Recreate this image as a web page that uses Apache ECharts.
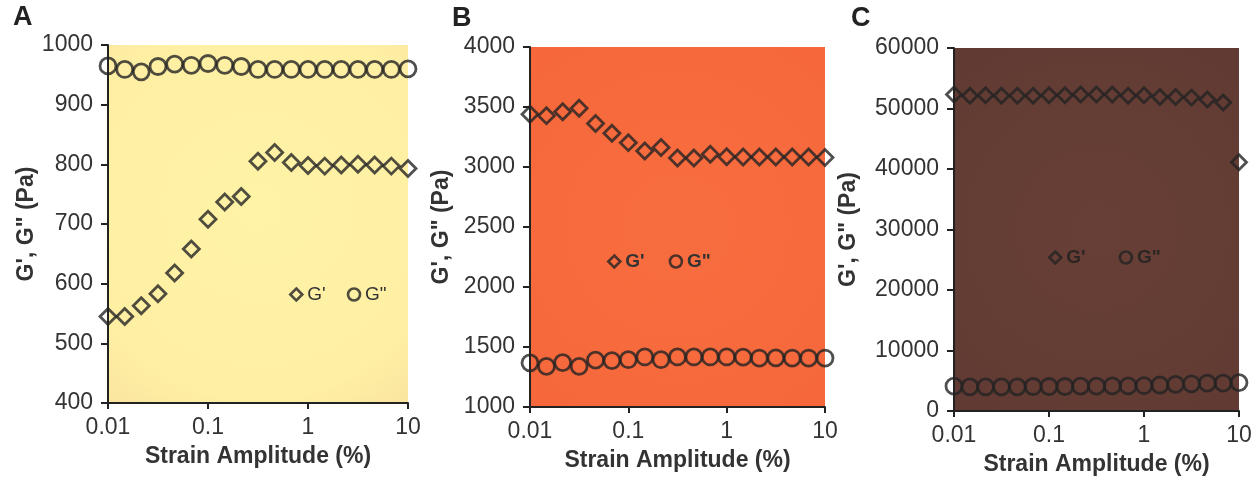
<!DOCTYPE html>
<html>
<head>
<meta charset="utf-8">
<script src="https://cdn.jsdelivr.net/npm/echarts@6/dist/echarts.min.js"></script>
<style>
html,body{margin:0;padding:0;background:#fff;}
#chart{width:1256px;height:491px;}
</style>
</head>
<body>
<div id="chart"></div>
<script>
// Strain amplitude (%) — shared by all three panels
const strain = [0.01, 0.0147, 0.0215, 0.0316, 0.0464, 0.0681, 0.1, 0.147, 0.215, 0.316, 0.464, 0.681, 1, 1.47, 2.15, 3.16, 4.64, 6.81, 10];

// Panel A
const aGp  = [545, 545, 563, 583, 618, 658, 708, 737, 746, 805, 820, 803, 798, 797, 799, 800, 799, 797, 793];
const aGpp = [965, 959, 955, 964, 968, 966, 969, 966, 964, 959, 959, 959, 959, 959, 959, 959, 959, 959, 960];
// Panel B
const bGp  = [3439, 3428, 3460, 3490, 3362, 3282, 3203, 3134, 3162, 3075, 3075, 3106, 3085, 3083, 3083, 3083, 3083, 3083, 3080];
const bGpp = [1368, 1339, 1370, 1339, 1390, 1386, 1394, 1417, 1394, 1417, 1417, 1417, 1417, 1415, 1408, 1410, 1408, 1408, 1408];
// Panel C
const cGp  = [52300, 52100, 52200, 52100, 52100, 52100, 52200, 52200, 52300, 52300, 52300, 52100, 52200, 51900, 51900, 51800, 51500, 51000, 41100];
const cGpp = [4100, 4000, 4000, 4000, 4000, 4050, 4050, 4050, 4100, 4100, 4150, 4150, 4200, 4300, 4400, 4500, 4600, 4600, 4700];

// Axis ranges / ticks
const yMin = [400, 1000, 0];
const yMax = [1000, 4000, 60000];
const yStep = [100, 500, 10000];
const xMin = 0.01, xMax = 10;
const panelLetters = ['A', 'B', 'C'];
const nameGp = "G'";
const nameGpp = 'G"';

const FONT = '"Liberation Sans", Arial, sans-serif';
const INK = '#333';

const grids = [
  {left: 108, top: 45, width: 300, height: 358,
   backgroundColor: {type: 'radial', x: 0.5, y: 0.45, r: 0.8,
     colorStops: [{offset: 0, color: '#FFF3A6'}, {offset: 0.8, color: '#FEEFA3'}, {offset: 1, color: '#FBE6A0'}]}},
  {left: 530, top: 47, width: 295, height: 360,
   backgroundColor: {type: 'radial', x: 0.5, y: 0.5, r: 0.75,
     colorStops: [{offset: 0, color: '#F86D3F'}, {offset: 1, color: '#F6683B'}]}},
  {left: 954, top: 48, width: 285, height: 363,
   backgroundColor: {type: 'radial', x: 0.5, y: 0.5, r: 0.75,
     colorStops: [{offset: 0, color: '#683F36'}, {offset: 1, color: '#613B33'}]}}
].map(g => Object.assign({show: true, borderWidth: 0, containLabel: false}, g));

const yNameGaps = [64, 77, 94];

const xAxes = [0, 1, 2].map(i => ({
  type: 'log', logBase: 10, gridIndex: i, min: xMin, max: xMax,
  name: 'Strain Amplitude (%)', nameLocation: 'middle', nameGap: 42,
  nameTextStyle: {fontFamily: FONT, fontSize: 23, fontWeight: 'bold', color: INK},
  axisLine: {show: true, lineStyle: {color: '#222', width: 2}},
  axisTick: {show: true, inside: false, length: 6, lineStyle: {color: '#222', width: 2}},
  minorTick: {show: false},
  splitLine: {show: false},
  axisLabel: {fontFamily: FONT, fontSize: 23, color: INK, margin: 13,
    formatter: v => String(+(+v).toPrecision(3))}
}));

const yAxes = [0, 1, 2].map(i => ({
  type: 'value', gridIndex: i, min: yMin[i], max: yMax[i], interval: yStep[i],
  name: "G', G\" (Pa)", nameLocation: 'middle', nameRotate: 90, nameGap: yNameGaps[i],
  nameTextStyle: {fontFamily: FONT, fontSize: 23, fontWeight: 'bold', color: INK},
  axisLine: {show: true, lineStyle: {color: '#222', width: 2}},
  axisTick: {show: true, inside: false, length: 7, lineStyle: {color: '#222', width: 2}},
  splitLine: {show: false},
  axisLabel: {fontFamily: FONT, fontSize: 23, color: INK, margin: 15,
    formatter: v => String(v)}
}));

const gpData = [aGp, bGp, cGp];
const gppData = [aGpp, bGpp, cGpp];
const stroke = ['#232323', '#232323', '#232323'];

const series = [];
[0, 1, 2].forEach(i => {
  series.push({
    type: 'scatter', name: nameGpp, xAxisIndex: i, yAxisIndex: i, clip: false,
    symbol: 'circle', symbolSize: 16,
    itemStyle: {color: 'rgba(0,0,0,0)', borderColor: stroke[i], borderWidth: 2.8},
    data: strain.map((x, k) => [x, gppData[i][k]])
  });
  series.push({
    type: 'scatter', name: nameGp, xAxisIndex: i, yAxisIndex: i, clip: false,
    symbol: 'diamond', symbolSize: i === 2 ? 15 : 16,
    itemStyle: {color: 'rgba(0,0,0,0)', borderColor: stroke[i], borderWidth: 2.8},
    data: strain.map((x, k) => [x, gpData[i][k]])
  });
});

const legendPos = [
  {left: 289, top: 285, itemGap: 21, weight: 'normal', color: INK},
  {left: 607, top: 252, itemGap: 24, weight: 'bold', color: INK},
  {left: 1048, top: 248, itemGap: 33, weight: 'bold', color: '#2b2523'}
];
const legends = legendPos.map((p, i) => ({
  left: p.left, top: p.top, orient: 'horizontal', padding: 0,
  itemGap: p.itemGap, itemWidth: 12, itemHeight: 12, selectedMode: false,
  data: [
    {name: nameGp, icon: 'diamond'},
    {name: nameGpp, icon: 'circle'}
  ],
  itemStyle: {color: 'rgba(0,0,0,0)', borderColor: stroke[i], borderWidth: 2.6},
  textStyle: {fontFamily: FONT, fontSize: 19, fontWeight: p.weight, color: p.color}
}));

const titles = [
  {left: 13, top: 4},
  {left: 452, top: 5},
  {left: 851, top: 5}
].map((p, i) => ({
  text: panelLetters[i], left: p.left, top: p.top, padding: 0,
  textStyle: {fontFamily: FONT, fontSize: 27, fontWeight: 'bold', color: '#222'}
}));

const chart = echarts.init(document.getElementById('chart'), null, {renderer: 'canvas'});
chart.setOption({
  animation: false,
  backgroundColor: '#fff',
  title: titles,
  legend: legends,
  grid: grids,
  xAxis: xAxes,
  yAxis: yAxes,
  series: series
});
</script>
</body>
</html>
